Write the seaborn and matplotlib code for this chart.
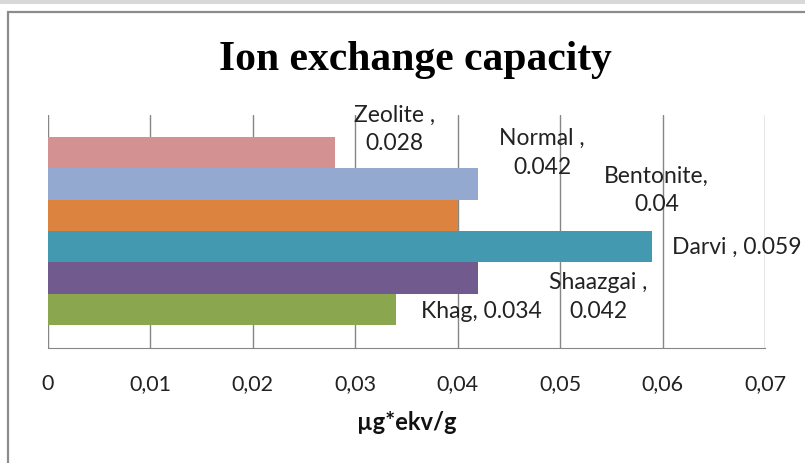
import matplotlib
matplotlib.use("Agg")
import matplotlib.pyplot as plt
import seaborn as sns
import pandas as pd
from matplotlib.ticker import FuncFormatter
from matplotlib.patches import Rectangle

# data (top to bottom)
samples = ["Zeolite", "Normal", "Bentonite", "Darvi", "Shaazgai", "Khag"]
capacity = [0.028, 0.042, 0.04, 0.059, 0.042, 0.034]
label_texts = ["Zeolite ,\n0.028", "Normal ,\n0.042", "Bentonite,\n0.04",
               "Darvi , 0.059", "Shaazgai ,\n0.042", "Khag, 0.034"]
x_ticks = [0, 0.01, 0.02, 0.03, 0.04, 0.05, 0.06, 0.07]

# styling
bar_colors = ["#D39191", "#94A9D0", "#DD8340", "#4299B0", "#715A8E", "#8AA64E"]
label_offsets = [(60, 23), (64, 31), (199, 25), (84, -1), (120, -19), (85, -2)]  # pixels from bar end
GRID = "#868686"

df = pd.DataFrame({"sample": samples, "capacity": capacity})

sns.set_style("white")
plt.rcParams["font.family"] = ["Lato", "DejaVu Sans"]

fig = plt.figure(figsize=(8.05, 4.63), dpi=100)

# chart frame (extends past the right/bottom edge like the screenshot)
fig.patches.append(Rectangle((8 / 805, -0.1), 1.1, 1 - 12 / 463 + 0.1,
                             transform=fig.transFigure, fill=False,
                             edgecolor="#8C8C8C", lw=1.6, zorder=0))
fig.patches.append(Rectangle((0, 1 - 4 / 463), 1, 4 / 463,
                             transform=fig.transFigure, color="#D8D8D8",
                             lw=0, zorder=0))

ax = fig.add_axes([48 / 805, 1 - 348 / 463, 717 / 805, 233 / 463])
sns.barplot(data=df, x="capacity", y="sample", hue="sample",
            palette=bar_colors, width=1.0, saturation=1, linewidth=0,
            legend=False, ax=ax)

ax.set_xlim(0, 0.07)
ax.set_ylim(len(samples) - 0.5 + 0.73, -0.5 - 0.70)
ax.set_xticks(x_ticks)
ax.xaxis.set_major_formatter(FuncFormatter(
    lambda v, _: "0" if abs(v) < 1e-9 else f"{v:.2f}".replace(".", ",")))
ax.set_yticks([])
ax.set_ylabel("")
ax.grid(axis="x", color=GRID, lw=1)
ax.set_axisbelow(True)
for side in ["top", "right", "left"]:
    ax.spines[side].set_visible(False)
ax.spines["bottom"].set_color(GRID)
ax.tick_params(axis="x", length=0, pad=19, labelsize=15.5, labelcolor="#222222")

ax.set_xlabel("µg*ekv/g", fontsize=17, fontweight="bold", labelpad=12,
              color="#111111")

# data labels
for i, (val, txt) in enumerate(zip(capacity, label_texts)):
    dx, dy = label_offsets[i]
    ax.annotate(txt, xy=(val, i), xytext=(dx, dy), textcoords="offset pixels",
                ha="center", va="center", multialignment="center",
                fontsize=16.5, color="#222222", linespacing=1.45)

fig.text(415 / 805, 1 - 60 / 463, "Ion exchange capacity",
         fontfamily=["Liberation Serif", "DejaVu Serif"], fontweight="bold",
         fontsize=30, ha="center", va="center", color="black")

fig.savefig("out.png", dpi=100)
